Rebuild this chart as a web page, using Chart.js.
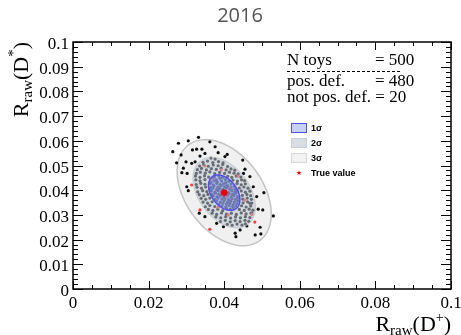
<!DOCTYPE html>
<html><head><meta charset="utf-8">
<script src="https://cdn.jsdelivr.net/npm/chart.js@4/dist/chart.umd.min.js"></script>
<style>html,body{margin:0;padding:0;background:#fff;}canvas{display:block;}</style>
</head><body>
<canvas id="c" width="461" height="335"></canvas>
<script>
// ---------- data ----------
const chartTitle = "2016";
const xTickValues = [0, 0.02, 0.04, 0.06, 0.08, 0.1];
const xTickLabels = ["0", "0.02", "0.04", "0.06", "0.08", "0.1"];
const yTickValues = [0, 0.01, 0.02, 0.03, 0.04, 0.05, 0.06, 0.07, 0.08, 0.09, 0.1];
const yTickLabels = ["0", "0.01", "0.02", "0.03", "0.04", "0.05", "0.06", "0.07", "0.08", "0.09", "0.1"];
const trueValue = [0.040, 0.039];
const sigmaX = 0.00415;
const sigmaY = 0.00716;
const rho = -0.40;
const sigmaLevels = [1, 2, 3];
const legendLabels = ["1\u03c3", "2\u03c3", "3\u03c3", "True value"];
const statsNames = ["N toys", "pos. def.", "not pos. def."];
const statsValues = [500, 480, 20];

// toys with positive-definite covariance
const posDefPoints = [
 // inside 1 sigma
 [0.0374,0.0453],[0.0386,0.0458],[0.0395,0.0451],
 [0.0368,0.0446],[0.0379,0.0442],[0.0389,0.0448],[0.0403,0.0443],
 [0.0365,0.0432],[0.0374,0.0438],[0.0382,0.0434],[0.0393,0.0437],[0.0404,0.0431],[0.0412,0.0436],
 [0.0363,0.0427],[0.0371,0.0422],[0.0380,0.0428],[0.0389,0.0423],[0.0398,0.0426],[0.0407,0.0421],[0.0418,0.0425],
 [0.0364,0.0412],[0.0373,0.0417],[0.0383,0.0413],[0.0392,0.0418],[0.0401,0.0414],[0.0410,0.0416],[0.0419,0.0411],[0.0426,0.0415],
 [0.0362,0.0404],[0.0370,0.0408],[0.0380,0.0402],[0.0388,0.0407],[0.0397,0.0403],[0.0406,0.0409],[0.0415,0.0404],[0.0424,0.0407],[0.0430,0.0402],
 [0.0366,0.0397],[0.0375,0.0392],[0.0384,0.0398],[0.0393,0.0394],[0.0402,0.0396],[0.0411,0.0391],[0.0420,0.0397],[0.0428,0.0393],[0.0434,0.0398],
 [0.0368,0.0383],[0.0377,0.0388],[0.0386,0.0384],[0.0396,0.0387],[0.0405,0.0382],[0.0413,0.0386],[0.0422,0.0383],[0.0431,0.0388],
 [0.0371,0.0377],[0.0381,0.0373],[0.0390,0.0378],[0.0399,0.0372],[0.0408,0.0376],[0.0418,0.0373],[0.0426,0.0378],[0.0435,0.0374],
 [0.0375,0.0363],[0.0384,0.0368],[0.0394,0.0364],[0.0403,0.0367],[0.0412,0.0362],[0.0421,0.0366],[0.0430,0.0363],[0.0437,0.0368],
 [0.0380,0.0357],[0.0390,0.0352],[0.0400,0.0358],[0.0409,0.0353],[0.0418,0.0356],[0.0427,0.0352],[0.0436,0.0357],
 [0.0386,0.0343],[0.0397,0.0348],[0.0406,0.0344],[0.0415,0.0347],[0.0424,0.0342],[0.0434,0.0346],
 [0.0394,0.0337],[0.0404,0.0333],[0.0413,0.0338],[0.0422,0.0334],[0.0431,0.0336],
 [0.0406,0.0327],[0.0416,0.0323],[0.0425,0.0328],
 // between 1 and 2 sigma
 [0.0365,0.0530],[0.0376,0.0526],
 [0.0344,0.0513],[0.0356,0.0518],[0.0370,0.0512],[0.0385,0.0516],[0.0397,0.0511],
 [0.0335,0.0498],[0.0346,0.0503],[0.0358,0.0497],[0.0371,0.0502],[0.0384,0.0499],[0.0396,0.0504],[0.0409,0.0496],
 [0.0329,0.0483],[0.0340,0.0488],[0.0353,0.0482],[0.0366,0.0487],[0.0379,0.0484],[0.0392,0.0489],[0.0405,0.0482],[0.0418,0.0486],[0.0428,0.0481],
 [0.0326,0.0468],[0.0337,0.0473],[0.0350,0.0469],[0.0362,0.0474],[0.0375,0.0467],[0.0388,0.0472],[0.0401,0.0468],[0.0414,0.0473],[0.0426,0.0469],[0.0437,0.0466],
 [0.0324,0.0457],[0.0336,0.0452],[0.0348,0.0458],[0.0359,0.0453],[0.0409,0.0456],[0.0420,0.0452],[0.0432,0.0457],[0.0444,0.0453],
 [0.0325,0.0442],[0.0336,0.0438],[0.0349,0.0443],[0.0423,0.0441],[0.0435,0.0437],[0.0446,0.0442],[0.0454,0.0439],
 [0.0326,0.0423],[0.0338,0.0428],[0.0349,0.0424],[0.0434,0.0427],[0.0445,0.0422],[0.0456,0.0426],
 [0.0328,0.0412],[0.0340,0.0408],[0.0351,0.0413],[0.0440,0.0409],[0.0452,0.0413],[0.0463,0.0408],
 [0.0330,0.0393],[0.0343,0.0398],[0.0354,0.0394],[0.0445,0.0397],[0.0456,0.0392],[0.0468,0.0396],
 [0.0334,0.0382],[0.0346,0.0378],[0.0357,0.0383],[0.0448,0.0379],[0.0460,0.0383],[0.0470,0.0378],
 [0.0339,0.0367],[0.0351,0.0363],[0.0362,0.0368],[0.0449,0.0364],[0.0461,0.0368],[0.0472,0.0363],
 [0.0344,0.0352],[0.0356,0.0348],[0.0368,0.0353],[0.0450,0.0349],[0.0462,0.0353],[0.0473,0.0348],
 [0.0350,0.0333],[0.0362,0.0338],[0.0375,0.0334],[0.0446,0.0337],[0.0458,0.0332],[0.0470,0.0336],
 [0.0358,0.0322],[0.0370,0.0318],[0.0383,0.0323],[0.0396,0.0317],[0.0440,0.0322],[0.0453,0.0318],[0.0466,0.0323],[0.0476,0.0319],
 [0.0368,0.0307],[0.0380,0.0302],[0.0393,0.0308],[0.0406,0.0303],[0.0419,0.0307],[0.0432,0.0302],[0.0445,0.0308],[0.0458,0.0304],[0.0471,0.0307],
 [0.0378,0.0292],[0.0391,0.0288],[0.0404,0.0293],[0.0417,0.0287],[0.0430,0.0292],[0.0443,0.0288],[0.0456,0.0293],[0.0468,0.0289],
 [0.0390,0.0273],[0.0403,0.0278],[0.0416,0.0272],[0.0429,0.0277],[0.0442,0.0273],[0.0455,0.0278],[0.0465,0.0274],
 [0.0408,0.0262],[0.0421,0.0258],[0.0434,0.0263],[0.0447,0.0259],[0.0456,0.0264],
 // between 2 and 3 sigma and beyond
 [0.0264,0.0556],[0.0279,0.0590],[0.0305,0.0600],[0.0332,0.0614],[0.0286,0.0543],[0.0274,0.0511],
 [0.0299,0.0515],[0.0316,0.0563],[0.0327,0.0566],[0.0341,0.0566],[0.0362,0.0596],[0.0376,0.0576],
 [0.0408,0.0545],[0.0449,0.0522],[0.0455,0.0485],[0.0451,0.0468],[0.0288,0.0471],[0.0301,0.0414],
 [0.0305,0.0398],[0.0505,0.0390],[0.0490,0.0323],[0.0502,0.0320],[0.0530,0.0296],[0.0473,0.0307],
 [0.0495,0.0250],[0.0482,0.0219],[0.0497,0.0223],[0.0429,0.0226],[0.0431,0.0212],[0.0334,0.0307],
 [0.0349,0.0293],[0.0292,0.0489],[0.0302,0.0468],[0.0314,0.0509],[0.0323,0.0515],[0.0336,0.0538],
 [0.0349,0.0549],[0.0384,0.0552],[0.0402,0.0536],[0.0468,0.0455],[0.0477,0.0414],[0.0486,0.0374],
 [0.0468,0.0347],[0.0442,0.0239],[0.0460,0.0255],[0.0398,0.0252],[0.0380,0.0266]
];
// toys with non positive-definite covariance
const notPosDefPoints = [
 [0.0392,0.0482],[0.0437,0.0457],[0.0314,0.0421],[0.0455,0.0360],[0.0473,0.0302],[0.0411,0.0300],
 [0.0407,0.0371],[0.0384,0.0331],[0.0368,0.0441],[0.0423,0.0409],[0.0349,0.0498],[0.0481,0.0271],
 [0.0362,0.0242],[0.0336,0.0320]
];

// ---------- drawing helpers ----------
const SERIF = '"Liberation Serif","Times New Roman",serif';
const SANS = '"Liberation Sans",Arial,sans-serif';

function ellipsePath(ctx, chart, n) {
  const xs = chart.scales.x, ys = chart.scales.y;
  const k = Math.sqrt(1 - rho * rho);
  ctx.beginPath();
  const N = 160;
  for (let i = 0; i <= N; i++) {
    const t = i / N * 2 * Math.PI;
    const vx = trueValue[0] + n * sigmaX * Math.cos(t);
    const vy = trueValue[1] + n * sigmaY * (rho * Math.cos(t) + k * Math.sin(t));
    const px = xs.getPixelForValue(vx), py = ys.getPixelForValue(vy);
    if (i === 0) ctx.moveTo(px, py); else ctx.lineTo(px, py);
  }
  ctx.closePath();
}

function richWidth(ctx, parts) {
  let w = 0;
  for (const p of parts) { ctx.font = p.size + 'px ' + SERIF; w += ctx.measureText(p.t).width + (p.gap || 0); }
  return w;
}
function drawRich(ctx, parts, xRight, yBase) {
  let x = xRight - richWidth(ctx, parts);
  ctx.textAlign = 'left'; ctx.textBaseline = 'alphabetic';
  for (const p of parts) {
    ctx.font = p.size + 'px ' + SERIF;
    ctx.fillText(p.t, x, yBase + (p.dy || 0));
    x += ctx.measureText(p.t).width + (p.gap || 0);
  }
}

function star5(ctx, cx, cy, R, r) {
  ctx.beginPath();
  for (let i = 0; i < 10; i++) {
    const a = -Math.PI / 2 + i * Math.PI / 5;
    const rr = i % 2 ? r : R;
    const px = cx + rr * Math.cos(a), py = cy + rr * Math.sin(a);
    if (i === 0) ctx.moveTo(px, py); else ctx.lineTo(px, py);
  }
  ctx.closePath();
}

const COL3 = 'rgb(240,240,240)';
const COL3B = 'rgb(196,196,196)';
const COL2 = 'rgba(182,194,206,0.52)';
const COL1 = 'rgba(120,140,255,0.42)';
const COL1B = 'rgb(80,80,235)';

const decorPlugin = {
  id: 'decor',
  beforeDatasetsDraw(chart) {
    const ctx = chart.ctx, a = chart.chartArea;
    ctx.save();
    ctx.beginPath(); ctx.rect(a.left, a.top, a.right - a.left, a.bottom - a.top); ctx.clip();
    ellipsePath(ctx, chart, sigmaLevels[2]);
    ctx.fillStyle = COL3; ctx.fill();
    ctx.lineWidth = 1.5; ctx.strokeStyle = COL3B; ctx.stroke();
    ctx.restore();
  },
  afterDatasetDraw(chart, args) {
    if (args.index !== 1) return;
    const ctx = chart.ctx;
    ctx.save();
    ellipsePath(ctx, chart, sigmaLevels[1]);
    ctx.fillStyle = COL2; ctx.fill();
    ctx.lineWidth = 1; ctx.strokeStyle = 'rgba(180,190,200,0.6)'; ctx.stroke();
    ellipsePath(ctx, chart, sigmaLevels[0]);
    ctx.fillStyle = COL1; ctx.fill();
    ctx.lineWidth = 1.5; ctx.strokeStyle = COL1B; ctx.stroke();
    ctx.restore();
  },
  afterDraw(chart) {
    const ctx = chart.ctx, a = chart.chartArea;
    const xs = chart.scales.x, ys = chart.scales.y;
    ctx.save();
    // title
    ctx.fillStyle = 'rgb(85,85,85)';
    ctx.font = '20px "Open Sans",' + SANS;
    ctx.textAlign = 'center'; ctx.textBaseline = 'middle';
    ctx.fillText(chartTitle, 240, 16);

    // ticks
    ctx.strokeStyle = '#000'; ctx.lineWidth = 1;
    ctx.beginPath();
    for (let i = 0; i <= 20; i++) {
      const v = i * 0.005;
      const px = Math.round(xs.getPixelForValue(v)) + 0.5;
      const len = (i % 4 === 0) ? 8 : 4;
      ctx.moveTo(px, a.bottom); ctx.lineTo(px, a.bottom - len);
      ctx.moveTo(px, a.top); ctx.lineTo(px, a.top + len);
    }
    for (let i = 0; i <= 50; i++) {
      const v = i * 0.002;
      const py = Math.round(ys.getPixelForValue(v)) + 0.5;
      const len = (i % 5 === 0) ? 10 : 5;
      ctx.moveTo(a.left, py); ctx.lineTo(a.left + len, py);
      ctx.moveTo(a.right, py); ctx.lineTo(a.right - len, py);
    }
    ctx.stroke();
    // frame
    ctx.lineWidth = 1.5;
    ctx.strokeRect(a.left, a.top, a.right - a.left, a.bottom - a.top);

    // tick labels
    ctx.fillStyle = '#000';
    ctx.font = '17px ' + SERIF;
    ctx.textBaseline = 'alphabetic';
    ctx.textAlign = 'center';
    xTickValues.forEach((v, i) => ctx.fillText(xTickLabels[i], xs.getPixelForValue(v), a.bottom + 19));
    ctx.textAlign = 'right';
    yTickValues.forEach((v, i) => ctx.fillText(yTickLabels[i], a.left - 4, ys.getPixelForValue(v) + 7));

    // axis titles
    drawRich(ctx, [
      {t: 'R', size: 22}, {t: 'raw', size: 15, dy: 4}, {t: '(D', size: 22},
      {t: '+', size: 14, dy: -9}, {t: ')', size: 22}
    ], a.right, 331);
    ctx.save();
    ctx.translate(28, a.top);
    ctx.rotate(-Math.PI / 2);
    drawRich(ctx, [
      {t: 'R', size: 22}, {t: 'raw', size: 15, dy: 4}, {t: '(D', size: 22},
      {t: '*', size: 15, dy: -10}, {t: ')', size: 22}
    ], 0, 0);
    ctx.restore();

    // stats box text
    ctx.font = '17px ' + SERIF; ctx.textAlign = 'left'; ctx.fillStyle = '#000';
    ctx.fillText(statsNames[0], 287, 65);
    ctx.fillText('= ' + statsValues[0], 375, 65);
    ctx.fillText(statsNames[1], 287, 86);
    ctx.fillText('= ' + statsValues[1], 375, 86);
    ctx.fillText(statsNames[2] + ' = ' + statsValues[2], 287, 102);
    ctx.setLineDash([3, 2]); ctx.lineWidth = 1.2;
    ctx.beginPath(); ctx.moveTo(287, 71.5); ctx.lineTo(401, 71.5); ctx.stroke();
    ctx.setLineDash([]);

    // legend
    const boxes = [[COL1B, 'rgb(200,210,240)'], ['rgb(200,205,210)', 'rgb(216,222,227)'], ['rgb(214,214,214)', 'rgb(242,242,242)']];
    const ly = [128, 143, 158, 173];
    ctx.font = 'bold 9px ' + SANS; ctx.textBaseline = 'middle';
    for (let i = 0; i < 3; i++) {
      ctx.fillStyle = boxes[i][1];
      ctx.fillRect(291, ly[i] - 5, 16, 10);
      ctx.strokeStyle = boxes[i][0]; ctx.lineWidth = 1;
      ctx.strokeRect(291.5, ly[i] - 4.5, 15, 9);
      ctx.fillStyle = '#000';
      ctx.fillText(legendLabels[i], 311, ly[i] + 0.5);
    }
    ctx.fillStyle = 'rgb(235,0,0)';
    star5(ctx, 299, ly[3], 2.6, 1.1); ctx.fill();
    ctx.fillStyle = '#000';
    ctx.fillText(legendLabels[3], 311, ly[3] + 0.5);
    ctx.restore();
  }
};

const toXY = p => ({x: p[0], y: p[1]});

new Chart(document.getElementById('c'), {
  type: 'scatter',
  data: {
    datasets: [
      {label: legendLabels[3], data: [toXY(trueValue)], pointStyle: 'star', pointRadius: 3.5,
       borderColor: 'rgb(235,0,0)', backgroundColor: 'rgb(235,0,0)', borderWidth: 2, order: 0},
      {label: 'not pos. def.', data: notPosDefPoints.map(toXY), pointRadius: 1.6, borderWidth: 0,
       backgroundColor: 'rgb(250,60,60)', order: 1},
      {label: 'pos. def.', data: posDefPoints.map(toXY), pointRadius: 1.6, borderWidth: 0,
       backgroundColor: 'rgb(15,15,15)', order: 2}
    ]
  },
  options: {
    responsive: false, animation: false, devicePixelRatio: 1, events: [],
    layout: {padding: {left: 73, right: 10, top: 42, bottom: 46}},
    scales: {
      x: {type: 'linear', min: 0, max: 0.1, display: false},
      y: {type: 'linear', min: 0, max: 0.1, display: false}
    },
    plugins: {legend: {display: false}, tooltip: {enabled: false}, title: {display: false}}
  },
  plugins: [decorPlugin]
});
</script>
</body></html>
